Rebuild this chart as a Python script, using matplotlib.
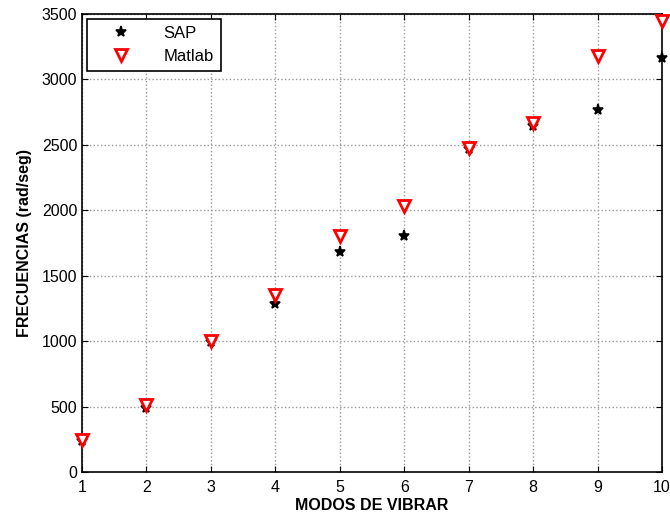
import numpy as np
import matplotlib.pyplot as plt

plt.rcParams['font.family'] = ['Liberation Sans', 'DejaVu Sans']

# datos
modos  = [1, 2, 3, 4, 5, 6, 7, 8, 9, 10]
sap    = [237, 490, 993, 1283, 1680, 1803, 2465, 2643, 2765, 3163]
matlab = [245, 510, 1000, 1350, 1805, 2032, 2475, 2666, 3180, 3450]

fig = plt.figure(figsize=(6.7, 5.2), dpi=100)
ax = fig.add_axes([0.1224, 0.0923, 0.8657, 0.8808])

ax.plot(modos, sap, linestyle='none', marker='*', color='black', markersize=8,
        markeredgewidth=1.2, label='SAP', clip_on=False, zorder=3)
ax.plot(modos, matlab, linestyle='none', marker='v', markerfacecolor='white',
        markeredgecolor='red', markersize=9, markeredgewidth=2, label='Matlab',
        clip_on=False, zorder=3)

ax.set_xlim(1, 10)
ax.set_ylim(0, 3500)
ax.set_xticks(range(1, 11))
ax.set_yticks(range(0, 3501, 500))
ax.grid(True, color='#999999', linestyle=':', linewidth=1.0)
ax.tick_params(direction='in', top=True, right=True, labelsize=11.5, length=4)
ax.tick_params(axis='x', pad=6)
for s in ax.spines.values():
    s.set_linewidth(1.2)

ax.set_xlabel('MODOS DE VIBRAR', fontsize=11.5, fontweight='bold', labelpad=2)
ax.set_ylabel('FRECUENCIAS (rad/seg)', fontsize=11.5, fontweight='bold', labelpad=7)

leg = ax.legend(loc='upper left', fontsize=12, fancybox=False, framealpha=1,
                edgecolor='black', borderaxespad=0.3, handletextpad=0.9,
                borderpad=0.4, handlelength=3.3, labelspacing=0.5)
leg.get_frame().set_linewidth(1.2)

fig.savefig('out.png')
